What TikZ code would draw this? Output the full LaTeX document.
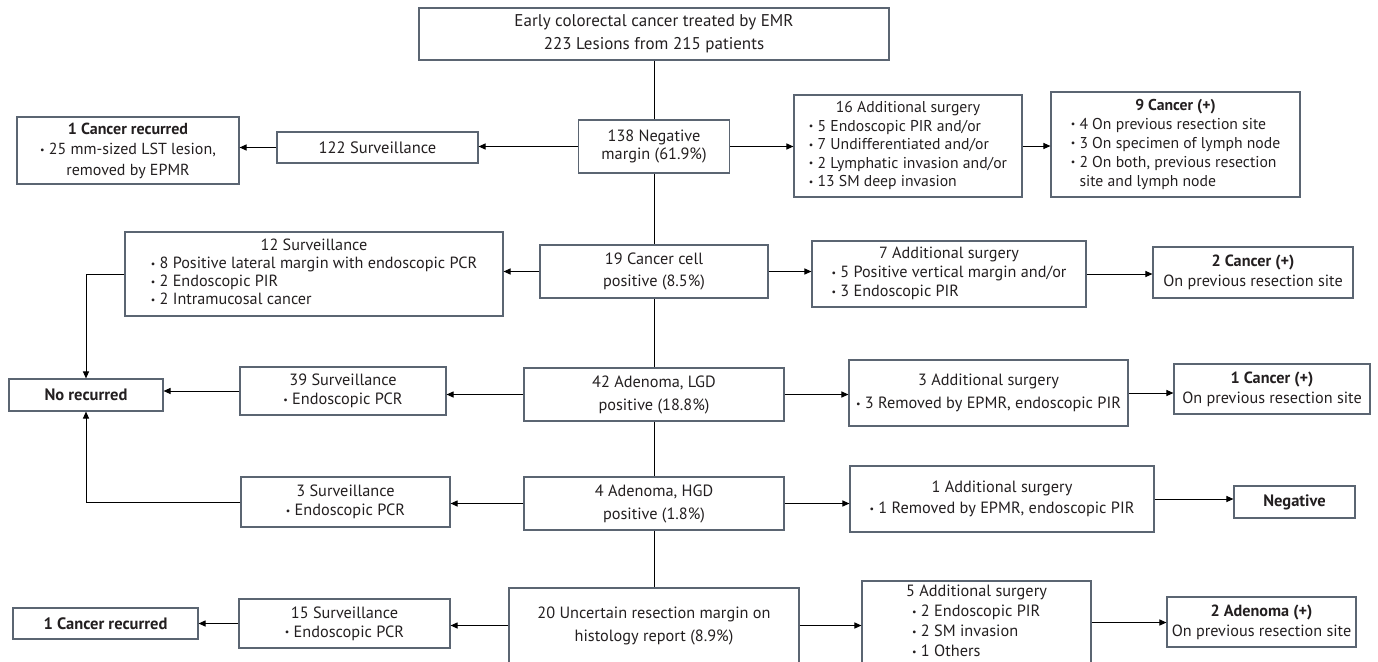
\documentclass[tikz,border=0pt]{standalone}
\usepackage{fontspec}
\setmainfont{PT Sans}
\usetikzlibrary{arrows.meta}
\definecolor{boxc}{HTML}{5B6572}
\definecolor{txt}{HTML}{231F20}
\newcommand\bu{{\fontsize{10}{10}\selectfont\raisebox{1.5pt}{•}}\ }
\newcommand\fs[2]{\fontsize{#1}{#2}\selectfont}
\begin{document}
\begin{tikzpicture}[x=1pt,y=-1pt,
  box/.style={draw=boxc, line width=1.1pt, rectangle, inner sep=0pt, align=center, text=txt},
  arr/.style={-{Triangle[length=7pt,width=6pt]}, line width=1pt, black},
  ln/.style={line width=1pt, black}]
\useasboundingbox (0,0) rectangle (1378,661);
\clip (0,0) rectangle (1378,661);
% centre column
\node[box, minimum width=470pt, minimum height=52pt, font=\fs{17}{23}] (top) at (654,34) {Early colorectal cancer treated by EMR\\223 Lesions from 215 patients};
\node[box, minimum width=151pt, minimum height=53pt, font=\fs{16.3}{18.5}] (neg) at (654,146.5) {138 Negative\\margin (61.9\%)};
\node[box, minimum width=228pt, minimum height=53pt, font=\fs{16.3}{22}] (cc) at (654,271.5) {19 Cancer cell\\positive (8.5\%)};
\node[box, minimum width=260pt, minimum height=53pt, font=\fs{16.3}{23}] (lgd) at (654,394.5) {42 Adenoma, LGD\\positive (18.8\%)};
\node[box, minimum width=260pt, minimum height=53pt, font=\fs{16.3}{23}] (hgd) at (654,503.5) {4 Adenoma, HGD\\positive (1.8\%)};
\node[box, minimum width=290pt, minimum height=75pt, font=\fs{16.3}{23}] (unc) at (654,625.5) {20 Uncertain resection margin on\\histology report (8.9\%)};
% row 1
\node[box, minimum width=201pt, minimum height=31pt, font=\fs{16.5}{19}] (s122) at (377.5,147.5) {122 Surveillance};
\node[box, minimum width=222pt, minimum height=67pt, font=\fs{16}{20.5}] (rec1) at (128,150.5) {\textbf{1 Cancer recurred}\\\bu 25 mm-sized LST lesion,\\removed by EPMR};
\node[box, minimum width=228pt, minimum height=102pt, font=\fs{15.7}{18.5}] (a16) at (908,146) {\begin{tabular}{@{}l@{}}\multicolumn{1}{@{}c@{}}{16 Additional surgery}\\\bu 5 Endoscopic PIR and/or\\\bu 7 Undifferentiated and/or\\\bu 2 Lymphatic invasion and/or\\\bu 13 SM deep invasion\end{tabular}};
\node[box, minimum width=249pt, minimum height=105pt, font=\fs{15.7}{19}] (c9) at (1175.5,144.5) {\begin{tabular}{@{}l@{}}\multicolumn{1}{@{}c@{}}{\textbf{9 Cancer (+)}}\\\bu 4 On previous resection site\\\bu 3 On specimen of lymph node\\\bu 2 On both, previous resection\\\phantom{\bu}site and lymph node\end{tabular}};
% row 2
\node[box, minimum width=378pt, minimum height=84pt, font=\fs{16.2}{18}] (s12) at (314,274) {\begin{tabular}{@{}l@{}}\multicolumn{1}{@{}c@{}}{12 Surveillance}\\\bu 8 Positive lateral margin with endoscopic PCR\\\bu 2 Endoscopic PIR\\\bu 2 Intramucosal cancer\end{tabular}};
\node[box, minimum width=274pt, minimum height=66pt, font=\fs{16.2}{19}] (a7) at (949,274) {\begin{tabular}{@{}l@{}}\multicolumn{1}{@{}c@{}}{7 Additional surgery}\\\bu 5 Positive vertical margin and/or\\\bu 3 Endoscopic PIR\end{tabular}};
\node[box, minimum width=200pt, minimum height=51pt, font=\fs{16.2}{20}] (c2) at (1253,272.5) {\textbf{2 Cancer (+)}\\On previous resection site};
% row 3
\node[box, minimum width=154pt, minimum height=32pt, font=\fs{16.5}{19}] (norec) at (86,395) {\textbf{No recurred}};
\node[box, minimum width=206pt, minimum height=48pt, font=\fs{16.3}{19}] (s39) at (343,391) {39 Surveillance\\\bu Endoscopic PCR};
\node[box, minimum width=279pt, minimum height=66pt, font=\fs{16.3}{23}] (a3) at (988.5,393) {3 Additional surgery\\\bu 3 Removed by EPMR, endoscopic PIR};
\node[box, minimum width=196pt, minimum height=50pt, font=\fs{16.2}{20}] (c1) at (1272,389) {\textbf{1 Cancer (+)}\\On previous resection site};
% row 4
\node[box, minimum width=209pt, minimum height=50pt, font=\fs{16.3}{19}] (s3) at (345.5,502) {3 Surveillance\\\bu Endoscopic PCR};
\node[box, minimum width=304pt, minimum height=66pt, font=\fs{16.3}{21}] (a1) at (1002,499) {1 Additional surgery\\\bu 1 Removed by EPMR, endoscopic PIR};
\node[box, minimum width=121pt, minimum height=32pt, font=\fs{16.5}{19}] (negb) at (1294.5,502) {\textbf{Negative}};
% row 5
\node[box, minimum width=185pt, minimum height=31pt, font=\fs{16.5}{19}] (rec2) at (105.5,623.5) {\textbf{1 Cancer recurred}};
\node[box, minimum width=211pt, minimum height=49pt, font=\fs{16.3}{19}] (s15) at (344.5,623.5) {15 Surveillance\\\bu Endoscopic PCR};
\node[box, minimum width=229pt, minimum height=83pt, font=\fs{16.3}{20}] (a5) at (976.5,622.5) {\begin{tabular}{@{}l@{}}\multicolumn{1}{@{}c@{}}{5 Additional surgery}\\\hspace{6pt}\bu 2 Endoscopic PIR\\\hspace{6pt}\bu 2 SM invasion\\\hspace{6pt}\bu 1 Others\end{tabular}};
\node[box, minimum width=189pt, minimum height=50pt, font=\fs{16.2}{20}] (ad2) at (1261.5,622) {\textbf{2 Adenoma (+)}\\On previous resection site};
% centre spine
\draw[ln] (top) -- (neg);
\draw[ln] (neg) -- (cc);
\draw[ln] (cc) -- (lgd);
\draw[ln] (lgd) -- (hgd);
\draw[ln] (hgd) -- (unc);
% row 1
\draw[arr] (neg.west) -- (neg.west -| s122.east);
\draw[arr] (s122.west) -- (s122.west -| rec1.east);
\draw[arr] (neg.east) -- (neg.east -| a16.west);
\draw[arr] (a16.east) -- (a16.east -| c9.west);
% row 2
\draw[arr] (cc.west) -- (cc.west -| s12.east);
\draw[arr] (cc.east) -- (cc.east -| a7.west);
\draw[arr] (a7.east) -- (a7.east -| c2.west);
\draw[arr] (s12.west) -| (norec.north);
% row 3
\draw[arr] (lgd.west) -- (lgd.west -| s39.east);
\draw[arr] (s39.west) -- (s39.west -| norec.east);
\draw[arr] (lgd.east) -- (lgd.east -| a3.west);
\draw[arr] (a3.east) -- (a3.east -| c1.west);
% row 4
\draw[arr] (hgd.west) -- (hgd.west -| s3.east);
\draw[arr] (s3.west) -| (norec.south);
\draw[arr] (hgd.east) -- (hgd.east -| a1.west);
\draw[arr] (a1.east) -- (a1.east -| negb.west);
% row 5
\draw[arr] (unc.west) -- (unc.west -| s15.east);
\draw[arr] (s15.west) -- (s15.west -| rec2.east);
\draw[arr] (unc.east) -- (unc.east -| a5.west);
\draw[arr] (a5.east) -- (a5.east -| ad2.west);
\end{tikzpicture}
\end{document}
